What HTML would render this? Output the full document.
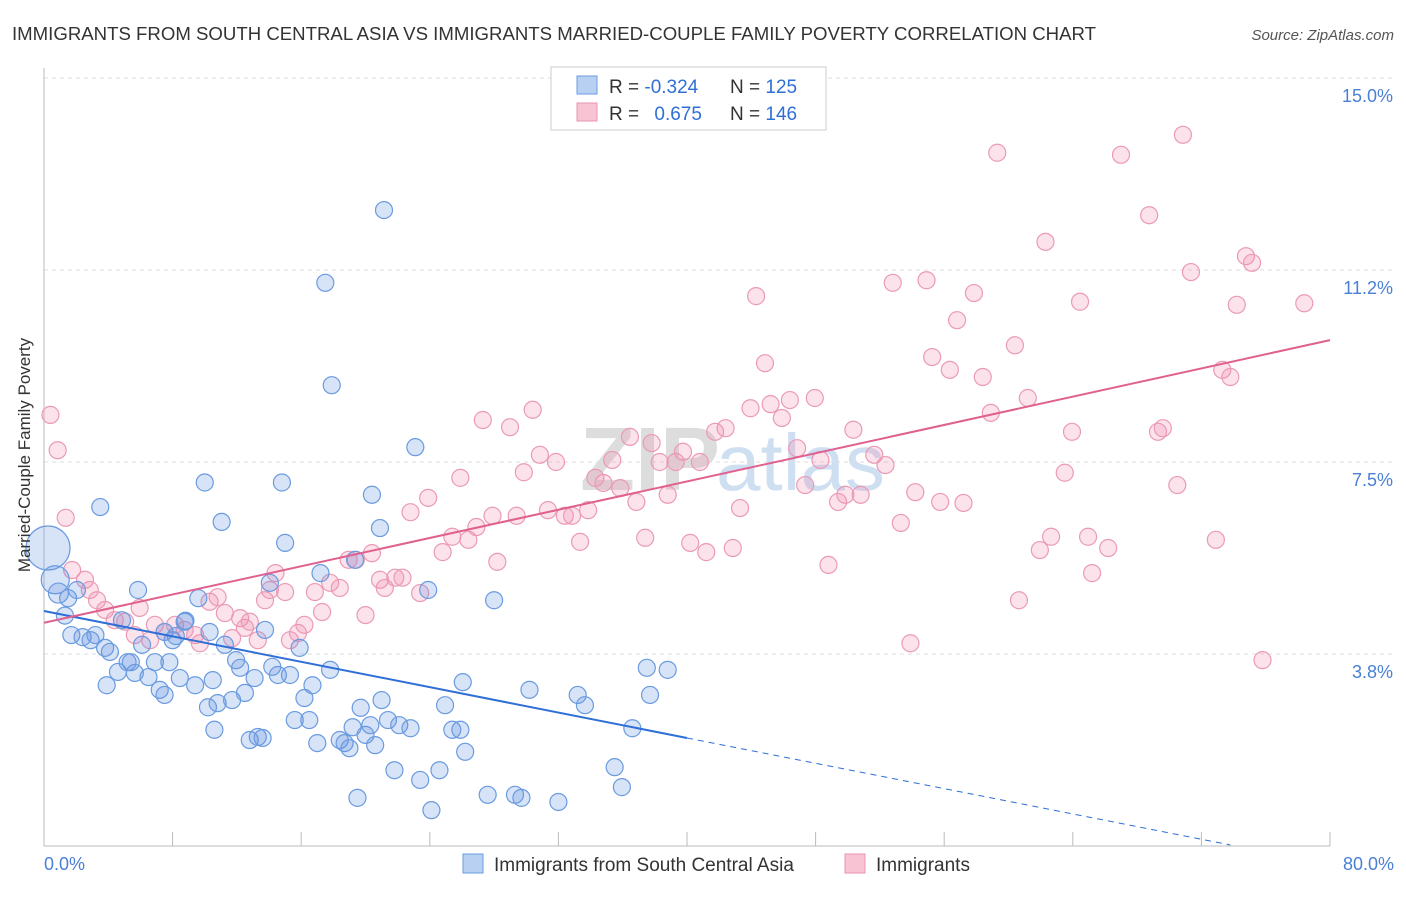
<!DOCTYPE html>
<html><head><meta charset="utf-8">
<style>
body{margin:0;background:#fff;font-family:"Liberation Sans",sans-serif;}
svg text{font-family:"Liberation Sans",sans-serif;}
</style></head>
<body>
<svg id="chart" width="1406" height="892" viewBox="0 0 1406 892" xmlns="http://www.w3.org/2000/svg">
<text x="12" y="40" font-size="18" fill="#333" textLength="1084" lengthAdjust="spacingAndGlyphs">IMMIGRANTS FROM SOUTH CENTRAL ASIA VS IMMIGRANTS MARRIED-COUPLE FAMILY POVERTY CORRELATION CHART</text>
<text x="1394" y="40" font-size="15" fill="#555" text-anchor="end" font-style="italic">Source: ZipAtlas.com</text>
<text x="720" y="490" font-size="90" fill="#ddd" text-anchor="end" font-weight="bold" font-family="Liberation Serif">ZIP</text>
<text x="716" y="490" font-size="80" fill="#cfdff2">atlas</text>
<g id="grid"></g>
<g id="axes"></g>
<g id="points"></g>
<g id="trends"></g>
<text x="30" y="455" font-size="17" fill="#333" text-anchor="middle" transform="rotate(-90 30 455)">Married-Couple Family Poverty</text>
<text x="44" y="870" font-size="18" fill="#4a7fd6">0.0%</text>
<text x="1394" y="870" font-size="18" fill="#4a7fd6" text-anchor="end">80.0%</text>
<g>
<rect x="551" y="67" width="275" height="63" fill="#fff" stroke="#ccc"/>
<rect x="577" y="76" width="20" height="18" fill="#b8d0f2" stroke="#6a9be0"/>
<rect x="577" y="103" width="20" height="18" fill="#f8c4d4" stroke="#ea93b0"/>
<text x="609" y="93" font-size="19" fill="#333">R = <tspan fill="#2f6fd6">-0.324</tspan></text>
<text x="730" y="93" font-size="19" fill="#333">N = <tspan fill="#2f6fd6">125</tspan></text>
<text x="609" y="120" font-size="19" fill="#333">R = <tspan fill="#2f6fd6" dx="10">0.675</tspan></text>
<text x="730" y="120" font-size="19" fill="#333">N = <tspan fill="#2f6fd6">146</tspan></text>
</g>
<g>
<rect x="463" y="854" width="20" height="19" fill="#b8d0f2" stroke="#6a9be0"/>
<text x="494" y="871" font-size="19" fill="#333">Immigrants from South Central Asia</text>
<rect x="845" y="854" width="20" height="19" fill="#f8c4d4" stroke="#ea93b0"/>
<text x="876" y="871" font-size="19" fill="#333">Immigrants</text>
</g>
</svg>
<script>
const yTicks=[3.8,7.5,11.2,15.0];
const yTickVals=[3.75,7.5,11.25,15.0];
const xTicks=[0,8,16,24,32,40,48,56,64,72,80];
const blueX=[0.25,0.7,0.9,1.3,1.5,1.7,2.05,2.4,2.9,3.2,3.5,3.8,4.1,3.9,4.6,4.85,5.2,5.65,5.85,6.1,6.5,6.9,7.2,7.5,7.8,8.0,8.45,8.75,9.4,9.6,10.0,10.2,10.5,10.6,10.8,11.05,11.25,11.7,11.95,12.2,12.5,12.8,13.1,13.3,13.6,13.75,14.05,14.2,14.55,14.8,15.0,15.3,15.6,15.9,16.2,16.5,16.7,17.0,17.2,17.5,17.8,17.9,18.4,18.7,19.0,19.2,19.35,19.7,20.0,20.3,20.4,20.6,20.9,21.0,21.15,21.4,21.8,22.1,22.8,23.1,23.4,23.9,24.1,24.6,24.95,25.4,25.9,26.2,26.05,27.6,28.0,29.3,29.7,30.2,32.0,33.2,33.65,35.5,35.95,36.6,37.5,37.7,38.8,19.5,5.4,7.5,8.2,10.3,8.8];
const blueY=[5.82,5.2,4.94,4.5,4.84,4.12,5.0,4.08,4.02,4.12,6.62,3.87,3.79,3.14,3.4,4.41,3.59,3.38,5.0,3.93,3.3,3.59,3.05,2.95,3.59,4.02,3.28,4.38,3.14,4.84,7.1,2.71,3.24,2.27,2.79,6.33,3.93,2.85,3.63,3.48,2.99,2.07,3.28,2.13,2.11,4.22,5.14,3.5,3.34,7.1,5.92,3.34,2.46,3.87,2.89,2.46,3.14,2.01,5.33,11.0,3.44,9.0,2.07,2.01,1.91,2.32,5.59,2.7,2.17,2.36,6.86,1.97,6.21,2.85,12.42,2.46,1.48,2.36,2.3,7.79,1.29,5.0,0.7,1.48,2.75,2.27,2.27,1.84,3.2,1.0,4.8,1.0,0.94,3.05,0.86,2.95,2.75,1.54,1.15,2.3,3.48,2.95,3.44,0.94,3.59,4.18,4.1,4.18,4.4];
const blueR=[22,14,10];
const pinkX=[0.4,0.85,1.35,1.75,2.55,2.85,3.3,3.8,4.4,5.05,5.65,5.95,6.6,6.9,7.5,8.15,8.75,9.4,9.7,10.3,10.8,11.25,11.7,12.2,12.5,12.8,13.3,13.75,14.05,14.4,15.0,15.3,15.8,16.2,16.85,17.3,17.8,18.4,18.95,19.4,20.0,20.4,20.9,21.2,21.85,22.3,22.8,23.4,23.9,24.8,25.4,25.9,26.4,26.9,27.3,27.9,28.2,28.99,29.4,29.85,30.4,30.85,31.35,31.85,32.4,32.85,33.35,33.85,34.3,34.8,35.35,35.85,36.45,36.85,37.4,37.8,38.3,38.8,39.3,39.75,40.2,40.8,41.2,41.75,42.4,42.85,43.3,43.95,44.3,44.85,45.2,45.9,46.4,46.85,47.35,47.95,48.3,48.8,49.4,49.85,50.35,50.8,51.65,52.35,52.8,53.3,53.9,54.2,54.9,55.25,55.75,56.35,56.8,57.2,57.85,58.4,58.9,59.3,60.4,60.65,61.2,61.95,62.3,62.65,63.5,63.95,64.45,64.95,65.2,66.2,67.0,68.75,69.3,69.6,70.5,70.85,71.35,72.9,73.3,73.8,74.2,74.77,75.15,75.8,78.4];
const pinkY=[8.42,7.73,6.41,5.39,5.2,5.0,4.8,4.61,4.41,4.38,4.12,4.65,4.02,4.32,4.18,4.32,4.22,4.12,3.96,4.77,4.86,4.55,4.06,4.45,4.26,4.38,4.02,4.8,5.0,5.33,4.96,4.02,4.16,4.32,4.96,4.57,5.14,5.04,5.59,5.59,4.51,5.72,5.2,5.04,5.24,5.24,6.52,4.94,6.8,5.74,6.04,7.19,5.98,6.23,8.32,6.45,5.55,8.18,6.45,7.3,8.52,7.64,6.56,7.5,6.45,6.45,5.94,6.56,7.19,7.09,7.54,6.99,7.99,6.72,6.02,7.87,7.5,6.86,7.5,7.7,5.92,7.5,5.74,8.09,8.16,5.82,6.6,8.55,10.74,9.43,8.63,8.36,8.71,7.77,7.05,8.75,7.54,5.49,6.72,6.86,8.13,6.86,7.64,7.44,11.0,6.31,3.96,6.91,11.05,9.55,6.72,9.3,10.27,6.7,10.8,9.16,8.46,13.54,9.78,4.8,8.75,5.78,11.8,6.04,7.29,8.09,10.63,6.04,5.33,5.82,13.5,12.32,8.09,8.16,7.05,13.89,11.21,5.98,9.3,9.16,10.57,11.52,11.39,3.63,10.6];
const blueTrendX=[0,40,73.8];
const blueTrendY=[4.59,2.11,0.02];
const pinkTrendX=[0,80];
const pinkTrendY=[4.36,9.88];

const NS="http://www.w3.org/2000/svg";
function sx(v){return 44+v*(1286/80);}
function sy(v){return 846-v*51.2;}
function mk(tag,attrs,parent){const e=document.createElementNS(NS,tag);for(const k in attrs)e.setAttribute(k,attrs[k]);document.getElementById(parent).appendChild(e);return e;}

yTickVals.forEach((v,i)=>{
  const g=mk('line',{x1:44,x2:1394,y1:sy(v),y2:sy(v),stroke:'#ddd','stroke-dasharray':'4,4'},'grid');
  
  
  const t=mk('text',{x:1393,y:sy(v)+24,'font-size':18,fill:'#4a7fd6','text-anchor':'end'},'grid');
  t.textContent=yTicks[i].toFixed(1)+'%';
  
  
});
const ax=mk('line',{x1:44,x2:1330,y1:846,y2:846,stroke:'#bbb'},'axes');


const ay=mk('line',{x1:44,x2:44,y1:68,y2:846,stroke:'#bbb'},'axes');


xTicks.forEach(v=>{
  const t=mk('line',{x1:sx(v),x2:sx(v),y1:832,y2:846,stroke:'#bbb'},'axes');
  
  
});
pinkX.forEach((x,i)=>{
  const c=mk('circle',{cx:sx(x),cy:sy(pinkY[i]),r:8.5,fill:'rgba(240,140,175,0.25)',stroke:'#eb9ab6','stroke-width':1.2},'points');
  
  
});
blueX.forEach((x,i)=>{
  const c=mk('circle',{cx:sx(x),cy:sy(blueY[i]),r:blueR[i]||8.5,fill:'rgba(95,145,225,0.25)',stroke:'#6a9be0','stroke-width':1.2},'points');
  
  
});
const bl=mk('line',{x1:sx(blueTrendX[0]),y1:sy(blueTrendY[0]),x2:sx(blueTrendX[1]),y2:sy(blueTrendY[1]),stroke:'#2f6fd6','stroke-width':2},'trends');


const bd=mk('line',{x1:sx(blueTrendX[1]),y1:sy(blueTrendY[1]),x2:sx(blueTrendX[2]),y2:sy(blueTrendY[2]),stroke:'#2f6fd6','stroke-width':1,'stroke-dasharray':'6,5'},'trends');


const pl=mk('line',{x1:sx(pinkTrendX[0]),y1:sy(pinkTrendY[0]),x2:sx(pinkTrendX[1]),y2:sy(pinkTrendY[1]),stroke:'#e0608e','stroke-width':2},'trends');


</script>
</body></html>
